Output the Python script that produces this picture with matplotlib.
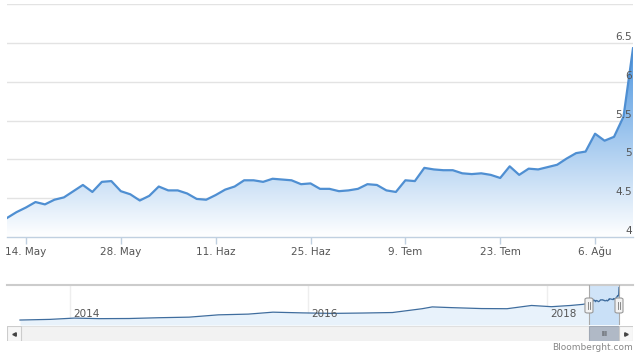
import numpy as np
import pandas as pd
import matplotlib
matplotlib.use('Agg')
import matplotlib.pyplot as plt
import matplotlib.dates as mdates
from matplotlib.colors import LinearSegmentedColormap
from matplotlib.patches import Rectangle, FancyBboxPatch
from matplotlib.transforms import blended_transform_factory, offset_copy

# daily USD/TRY, business days 10 May - 10 Aug 2018
dates = pd.bdate_range('2018-05-10', '2018-08-10')
usdtry = [4.245, 4.32, 4.38, 4.45, 4.42, 4.48, 4.51, 4.59, 4.67, 4.58,
          4.71, 4.72, 4.59, 4.55, 4.47, 4.53, 4.65, 4.60, 4.60, 4.56,
          4.49, 4.48, 4.54, 4.61, 4.65, 4.73, 4.73, 4.71, 4.75, 4.74,
          4.73, 4.68, 4.69, 4.62, 4.62, 4.59, 4.60, 4.62, 4.68, 4.67,
          4.60, 4.58, 4.73, 4.72, 4.89, 4.87, 4.86, 4.86, 4.82, 4.81,
          4.82, 4.80, 4.76, 4.91, 4.80, 4.88, 4.87, 4.90, 4.93, 5.01,
          5.08, 5.10, 5.33, 5.24, 5.29, 5.55, 6.43]
tick_dates = ['2018-05-14', '2018-05-28', '2018-06-11', '2018-06-25',
              '2018-07-09', '2018-07-23', '2018-08-06']
tick_labels = ['14. May', '28. May', '11. Haz', '25. Haz', '9. Tem', '23. Tem', '6. Ağu']
y_levels = [4, 4.5, 5, 5.5, 6, 6.5]
y_labels = ['4', '4.5', '5', '5.5', '6', '6.5']

# navigator history (coarse)
hist_dates = ['2013-08-01', '2013-11-01', '2014-01-15', '2014-04-01', '2014-07-01',
              '2014-10-01', '2015-01-01', '2015-04-01', '2015-07-01', '2015-09-15',
              '2015-12-15', '2016-03-15', '2016-06-15', '2016-09-15', '2016-12-15',
              '2017-01-15', '2017-03-15', '2017-06-15', '2017-09-01', '2017-11-15',
              '2018-01-15', '2018-03-15', '2018-04-20']
hist_values = [1.93, 2.02, 2.20, 2.12, 2.14, 2.25, 2.33, 2.65, 2.75, 3.02,
               2.92, 2.85, 2.90, 2.97, 3.50, 3.75, 3.65, 3.52, 3.50, 3.95,
               3.78, 3.95, 4.10]
year_ticks = ['2014-01-01', '2016-01-01', '2018-01-01']
year_labels = ['2014', '2016', '2018']

W, H = 640, 354
fig = plt.figure(figsize=(6.4, 3.54), dpi=100)


def box(x0, y0, x1, y1):
    return [x0 / W, 1 - y1 / H, (x1 - x0) / W, (y1 - y0) / H]


# main chart
ax = fig.add_axes(box(7, 4, 633, 237))
x = np.arange(len(usdtry))
for v in np.arange(4.5, 7.01, 0.5):
    ax.axhline(v, color='#e3e3e3', lw=1, zorder=0)
fill = ax.fill_between(x, usdtry, 4, facecolor='none', edgecolor='none')
cmap = LinearSegmentedColormap.from_list('fx', ['#ffffff', '#4d96e0'])
grad = np.linspace(0, 1, 256).reshape(-1, 1)
im = ax.imshow(grad, extent=[0, len(usdtry) - 1, 4, max(usdtry)], origin='lower',
               aspect='auto', cmap=cmap, zorder=1)
im.set_clip_path(fill.get_paths()[0], transform=ax.transData)
ax.plot(x, usdtry, color='#4f8fd2', lw=1.6, zorder=3, solid_joinstyle='round')
ax.set_xlim(0, len(usdtry) - 1)
ax.set_ylim(4, 7)

for s in ['top', 'left', 'right']:
    ax.spines[s].set_visible(False)
ax.spines['bottom'].set_color('#c0d0e0')
ax.spines['bottom'].set_linewidth(1)
positions = [dates.get_loc(pd.Timestamp(d)) for d in tick_dates]
ax.set_xticks(positions, tick_labels)
ax.tick_params(axis='x', length=5, width=1, color='#c0d0e0', labelsize=7.5,
               labelcolor='#555555', pad=2)
ax.set_yticks([])
trans = offset_copy(blended_transform_factory(ax.transAxes, ax.transData),
                    fig=fig, x=-1, y=1, units='dots')
for v, s in zip(y_levels, y_labels):
    ax.text(1.0, v, s, transform=trans, ha='right', va='bottom', fontsize=7.5,
            color='#555555', zorder=4)

# navigator
axn = fig.add_axes(box(7, 285, 633, 325))
nav_dates = list(pd.to_datetime(hist_dates)) + list(dates)
nav_vals = hist_values + usdtry
nd = mdates.date2num(nav_dates)
sc = (nd[-1] - nd[0]) / 599
axn.set_xlim(nd[0] - 13 * sc, nd[-1] + 14 * sc)
axn.set_ylim(1.24, 6.79)
for d in year_ticks:
    axn.axvline(mdates.date2num(pd.Timestamp(d)), color='#eeeeee', lw=1, zorder=0)
axn.fill_between(nd, nav_vals, 1.24, color='#e8f2fb', lw=0, zorder=1)
axn.plot(nd, nav_vals, color='#3f6d9e', lw=0.9, zorder=3)
sel0, sel1 = mdates.date2num(dates[0]), mdates.date2num(dates[-1])
axn.axvspan(sel0, sel1, color='#bcd9f6', alpha=0.7, lw=0, zorder=2)
for s in ['bottom', 'left', 'right']:
    axn.spines[s].set_visible(False)
axn.spines['top'].set_color('#cccccc')
axn.spines['top'].set_linewidth(1.5)
axn.set_xticks([])
axn.set_yticks([])
ytr = offset_copy(blended_transform_factory(axn.transData, axn.transAxes),
                  fig=fig, x=3, y=0, units='dots')
for d, s in zip(year_ticks, year_labels):
    axn.text(mdates.date2num(pd.Timestamp(d)), 0.27, s, transform=ytr, ha='left',
             va='center', fontsize=7.5, color='#555555', zorder=4)
for d in [sel0, sel1]:
    axn.axvline(d, color='#aaaaaa', lw=0.8, zorder=4)

# handles
fig.canvas.draw()
for d in [sel0, sel1]:
    px = axn.transData.transform((d, 0))[0]
    hb = FancyBboxPatch(((px - 4) / W, 1 - 313 / H), 8 / W, 15 / H,
                        boxstyle='round,pad=0,rounding_size=0.004',
                        transform=fig.transFigure, fc='#f2f2f2', ec='#999999', lw=0.8)
    fig.add_artist(hb)
    for off in [-1, 1]:
        fig.add_artist(plt.Line2D([(px + off) / W] * 2, [1 - 309 / H, 1 - 302 / H],
                                  color='#777777', lw=0.6, transform=fig.transFigure))

# scrollbar
axs = fig.add_axes(box(7, 326, 633, 341))
axs.set_xlim(axn.get_xlim())
axs.set_ylim(0, 1)
axs.axis('off')
axs.add_patch(Rectangle((0, 0), 1, 1, transform=axs.transAxes, fc='#f2f2f2',
                        ec='#e0e0e0', lw=0.8))
btr = blended_transform_factory(axs.transData, axs.transAxes)
axs.add_patch(Rectangle((sel0, 0), sel1 - sel0, 1, transform=btr, fc='#b0b9c6',
                        ec='#a0a8b4', lw=0.8))
axs.text((sel0 + sel1) / 2, 0.5, 'III', transform=btr, ha='center', va='center',
         fontsize=5, color='#333333')
for bx in [0, 612 / 626]:
    axs.add_patch(Rectangle((bx, 0), 14 / 626, 1, transform=axs.transAxes,
                            fc='#f7f7f7', ec='#cccccc', lw=0.8))
axs.plot([7 / 626], [0.5], marker='<', ms=2.5, color='#444444', transform=axs.transAxes)
axs.plot([619 / 626], [0.5], marker='>', ms=2.5, color='#444444', transform=axs.transAxes)

fig.text(633 / W, 1 - 347 / H, 'Bloomberght.com', ha='right', va='center',
         fontsize=6.5, color='#888888')

fig.savefig('out.png', dpi=100)
